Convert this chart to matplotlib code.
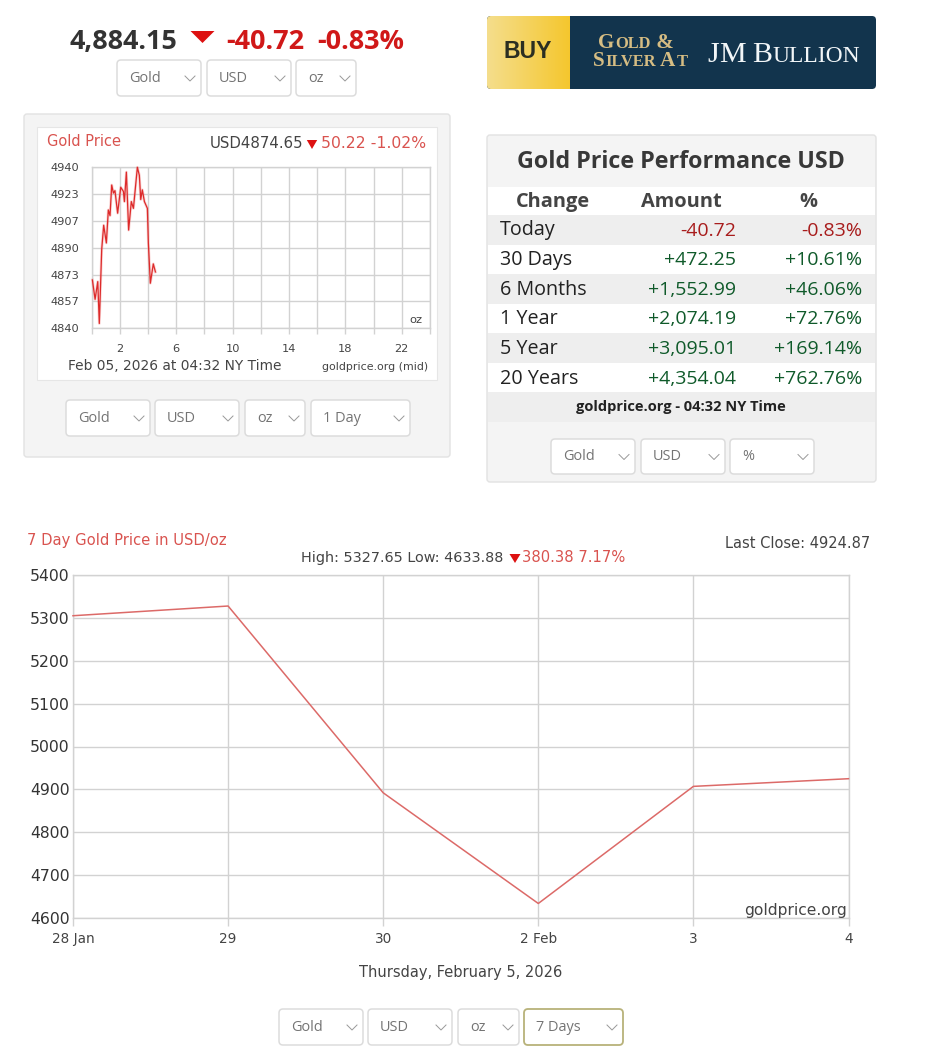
import numpy as np
import matplotlib
matplotlib.use("Agg")
import matplotlib.pyplot as plt
from matplotlib.patches import FancyBboxPatch, Polygon, Rectangle

# ---- data ----
intraday_hours = [0.05, 0.24, 0.43, 0.54, 0.71, 0.85, 1.04, 1.18, 1.30, 1.42, 1.54, 1.65, 1.84, 2.06, 2.25,
                  2.32, 2.46, 2.62, 2.81, 2.96, 3.24, 3.38, 3.48, 3.59, 3.74, 3.95, 4.02, 4.16, 4.37, 4.52]
intraday_price = [4870, 4858, 4869, 4843, 4889, 4904, 4893, 4913.5, 4910, 4929, 4924, 4925.5, 4911.5, 4927.6, 4925,
                  4918.7, 4937, 4901, 4918.7, 4914.5, 4940, 4935, 4920, 4926, 4918.7, 4914.5, 4893, 4868, 4880, 4875]
intraday_yticks = [4840, 4856.67, 4873.33, 4890, 4906.67, 4923.33, 4940]
intraday_ylabels = ["4840", "4857", "4873", "4890", "4907", "4923", "4940"]
intraday_xgrid = list(range(0, 25, 2))
intraday_xlabels = {2: "2", 6: "6", 10: "10", 14: "14", 18: "18", 22: "22"}

week_labels = ["28 Jan", "29", "30", "2 Feb", "3", "4"]
week_price = [5305, 5327.65, 4892, 4633.88, 4907, 4924.87]
week_yticks = [4600, 4700, 4800, 4900, 5000, 5100, 5200, 5300, 5400]

perf_rows = ["Today", "30 Days", "6 Months", "1 Year", "5 Year", "20 Years"]
perf_amount = ["-40.72", "+472.25", "+1,552.99", "+2,074.19", "+3,095.01", "+4,354.04"]
perf_percent = ["-0.83%", "+10.61%", "+46.06%", "+72.76%", "+169.14%", "+762.76%"]

# ---- setup ----
W, H = 925, 1047
OS = "Open Sans"
DV = "DejaVu Sans"
fig = plt.figure(figsize=(W / 100, H / 100), dpi=100, facecolor="white")
ov = fig.add_axes([0, 0, 1, 1], zorder=0)
ov.set_xlim(0, W)
ov.set_ylim(H, 0)
ov.axis("off")

def px(size):
    return size * 0.72

def txt(x, y, s, size, color="#333333", ha="left", family=OS, weight="normal", va="center"):
    return ov.text(x, y, s, fontsize=px(size), color=color, ha=ha, va=va, family=family, fontweight=weight, zorder=6)

def box(x0, y0, x1, y1, fc, ec="none", r=4, lw=1.0, z=1):
    p = FancyBboxPatch((x0 + r, y0 + r), x1 - x0 - 2 * r, y1 - y0 - 2 * r,
                       boxstyle=f"round,pad={r},rounding_size={r}", fc=fc, ec=ec, lw=lw, zorder=z)
    ov.add_patch(p)
    return p

def rect(x0, y0, x1, y1, fc, z=2, ec="none"):
    ov.add_patch(Rectangle((x0, y0), x1 - x0, y1 - y0, fc=fc, ec=ec, lw=0.8, zorder=z))

def tri(xc, y0, y1, half, color="#dd1111"):
    ov.add_patch(Polygon([(xc - half, y0), (xc + half, y0), (xc, y1)], closed=True, fc=color, ec="none", zorder=5))

def dropdown(x0, x1, y0, y1, label, ec="#dcdcdc", lw=1.1):
    box(x0, y0, x1, y1, "white", ec=ec, r=4, lw=lw, z=3)
    txt(x0 + 12, (y0 + y1) / 2 + 0.5, label, 14.5, color="#747474")
    cx = x1 - 11
    cy = (y0 + y1) / 2
    ov.plot([cx - 5, cx, cx + 5], [cy - 2, cy + 3, cy - 2], color="#999999", lw=0.7, zorder=6)

def chart_axes(l, t, r, b):
    a = fig.add_axes([l / W, 1 - b / H, (r - l) / W, (b - t) / H], zorder=2)
    a.patch.set_alpha(0)
    return a

# ---- top quote ----
txt(70, 42, "4,884.15", 27, color="#333333", weight="bold")
tri(202.5, 31, 43, 12)
txt(226, 42, "-40.72", 27, color="#d01818", weight="bold")
txt(317, 42, "-0.83%", 27, color="#d01818", weight="bold")
dropdown(117, 201, 60, 96, "Gold")
dropdown(207, 291, 60, 96, "USD")
dropdown(296, 356, 60, 96, "oz")

# ---- banner ----
box(487, 16, 876, 89, "#12344d", r=4, z=1)
grad = np.linspace(0, 1, 80).reshape(1, -1)
cols = np.zeros((1, 80, 3))
c0, c1 = np.array([0.96, 0.87, 0.55]), np.array([0.96, 0.78, 0.18])
cols[0, :, :] = c0 + (c1 - c0) * grad[0, :, None]
im = ov.imshow(cols, extent=(487, 570, 89, 16), aspect="auto", zorder=2)
clip = FancyBboxPatch((491, 20), 100, 65, boxstyle="round,pad=4,rounding_size=4", fc="none", ec="none",
                      transform=ov.transData)
ov.add_patch(clip)
im.set_clip_path(clip)
ov.set_xlim(0, W)
ov.set_ylim(H, 0)
txt(528, 52, "BUY", 23, color="#2b2f22", ha="center", family="Liberation Sans", weight="bold")

def small_caps(x, y, parts, color, big, small):
    r = fig.canvas.get_renderer()
    for s, size in [(p, big if p[0] == "^" else small) for p in parts]:
        t = txt(x, y, s.lstrip("^"), size, color=color, family="Liberation Serif", weight="bold", va="baseline")
        x += t.get_window_extent(r).width + 0.6

small_caps(598, 48, ["^G", "OLD", "^ &"], "#d6bd83", 21, 16.5)
small_caps(593, 66, ["^S", "ILVER", "^ A", "T"], "#d6bd83", 21, 16.5)
r = fig.canvas.get_renderer()
xx = 707
for s, size in [("J", 30), ("M", 30), (" ", 20), ("B", 30), ("ULLION", 23.5)]:
    t = txt(xx, 62, s, size, color="#f2f6f8", family="Liberation Serif", va="baseline")
    xx += t.get_window_extent(r).width if s != " " else 7

# ---- left panel ----
box(24, 114, 450, 457, "#f4f4f4", ec="#e2e2e2", r=3, z=1)
rect(37, 127, 437, 380, "white", ec="#e6e6e6")
txt(47, 141, "Gold Price", 14.6, color="#d9534f", family=DV)
txt(303, 143.5, "USD4874.65", 15, color="#444444", ha="right", family=DV)
tri(312, 140, 149, 5.2)
txt(426, 143.5, "50.22 -1.02%", 15.6, color="#d9534f", ha="right", family=DV)
txt(68, 366, "Feb 05, 2026 at 04:32 NY Time", 13.8, color="#444444", family=DV)
txt(428, 367, "goldprice.org (mid)", 11, color="#444444", ha="right", family=DV)
txt(422.5, 320, "oz", 11.5, color="#444444", ha="right", family=DV)

a1 = chart_axes(91.7, 167.3, 430, 328.3)
a1.set_xlim(0, 24)
a1.set_ylim(4840, 4940)
a1.set_yticks(intraday_yticks)
a1.set_yticklabels(intraday_ylabels, fontsize=px(11.4), color="#444444", family=DV)
a1.set_xticks(intraday_xgrid)
a1.set_xticklabels([intraday_xlabels.get(h, "") for h in intraday_xgrid], fontsize=px(11.4), color="#444444", family=DV)
a1.grid(True, color="#d2d2d2", lw=1.0)
a1.set_axisbelow(True)
a1.tick_params(axis="x", length=4, width=1.0, color="#d2d2d2", pad=7)
a1.tick_params(axis="y", length=0, pad=9)
for sp in a1.spines.values():
    sp.set_color("#d2d2d2")
    sp.set_linewidth(1.0)
a1.plot(intraday_hours, intraday_price, color="#ee6a6a", lw=2.0, alpha=0.3, clip_on=False, zorder=3)
a1.plot(intraday_hours, intraday_price, color="#dd2a2a", lw=0.9, clip_on=False, zorder=4)

dropdown(66, 150, 400, 436, "Gold")
dropdown(155, 239, 400, 436, "USD")
dropdown(245, 305, 400, 436, "oz")
dropdown(311, 410, 400, 436, "1 Day")

# ---- right panel ----
box(487, 135, 876, 482, "#f4f4f4", ec="#e2e2e2", r=3, z=1)
txt(681, 162, "Gold Price Performance USD", 23.2, color="#383838", ha="center", weight="bold")
rect(488, 187, 875, 392, "white")
txt(553, 202, "Change", 20, color="#444444", ha="center", weight="bold")
txt(681, 202, "Amount", 20, color="#444444", ha="center", weight="bold")
txt(808, 202, "%", 20, color="#444444", ha="center", weight="bold")
row_h = 29.6
for i, (name, amt, pct) in enumerate(zip(perf_rows, perf_amount, perf_percent)):
    top = 215 + i * row_h
    if i % 2 == 0:
        rect(488, top, 875, top + row_h, "#eeeeee", z=3)
    col = "#a81c1c" if amt.startswith("-") else "#0f5a2a"
    cy = top + row_h / 2 + 0.7
    txt(500, cy, name, 19.8, color="#222222")
    txt(736, cy, amt, 19.5, color=col, ha="right")
    txt(862, cy, pct, 19.5, color=col, ha="right")
rect(488, 392, 875, 422, "#eeeeee", z=3)
txt(681, 407, "goldprice.org - 04:32 NY Time", 14.6, color="#222222", ha="center", weight="bold")
dropdown(551, 635, 439, 474, "Gold")
dropdown(641, 725, 439, 474, "USD")
dropdown(730, 814, 439, 474, "%")

# ---- bottom chart ----
txt(27, 540.5, "7 Day Gold Price in USD/oz", 14.7, color="#d9534f", family=DV)
txt(870, 543, "Last Close: 4924.87", 14.6, color="#444444", ha="right", family=DV)
txt(301, 558, "High: 5327.65 Low: 4633.88", 14.4, color="#444444", family=DV)
tri(515, 554, 563, 5.5)
txt(625, 558, "380.38 7.17%", 14.8, color="#d9534f", ha="right", family=DV)

a2 = chart_axes(73, 575, 848.5, 918)
a2.set_xlim(0, len(week_labels) - 1)
a2.set_ylim(4600, 5400)
a2.set_yticks(week_yticks)
a2.set_yticklabels([str(v) for v in week_yticks], fontsize=px(15.6), color="#333333", family=DV)
a2.set_xticks(range(len(week_labels)))
a2.set_xticklabels(week_labels, fontsize=px(13.6), color="#444444", family=DV)
a2.grid(True, color="#d2d2d2", lw=1.0)
a2.set_axisbelow(True)
a2.tick_params(axis="x", length=5.8, width=1.0, color="#d2d2d2", pad=4.5)
a2.tick_params(axis="y", length=0, pad=2.5)
for sp in a2.spines.values():
    sp.set_color("#d2d2d2")
    sp.set_linewidth(1.0)
a2.plot(range(len(week_labels)), week_price, color="#dc6a68", lw=1.1, clip_on=False, zorder=4)
a2.text(0.9985, 0.0, "goldprice.org", transform=a2.transAxes, fontsize=px(15.5), color="#444444",
        ha="right", va="bottom", family=DV)

txt(460.5, 972.5, "Thursday, February 5, 2026", 14.6, color="#444444", ha="center", family=DV)
dropdown(279, 363, 1009, 1045, "Gold")
dropdown(368, 452, 1009, 1045, "USD")
dropdown(458, 519, 1009, 1045, "oz")
dropdown(524, 623, 1009, 1045, "7 Days", ec="#b8b27a", lw=1.3)

fig.savefig("out.png", dpi=100, facecolor="white")
